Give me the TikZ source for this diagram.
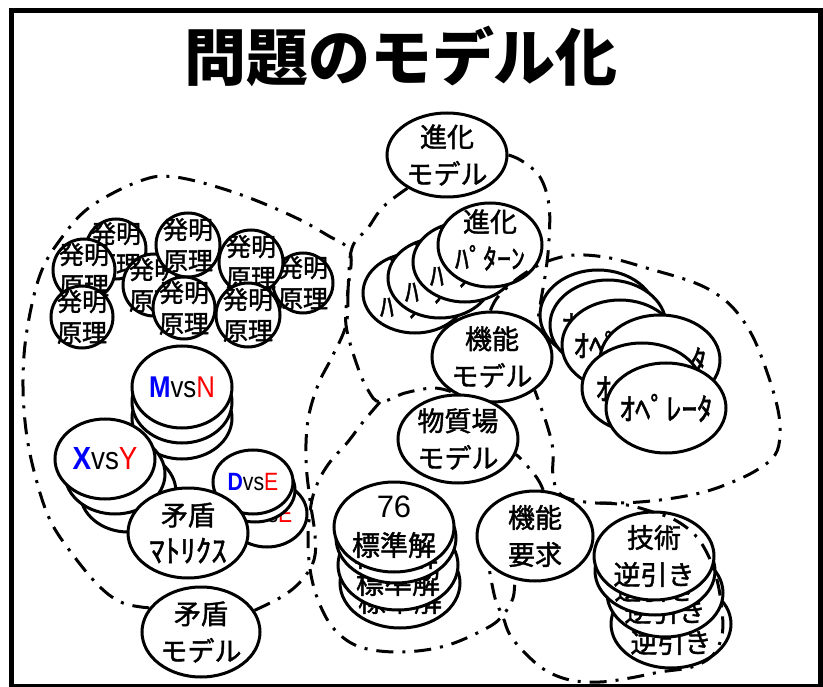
\documentclass[tikz,border=0pt]{standalone}
\usepackage{fontspec}
\usepackage{graphicx}
\usetikzlibrary{shapes.geometric}
\newfontfamily\jp[FakeBold=1.5]{Noto Sans CJK JP}
\newfontfamily\jpt{Noto Sans CJK JP}
\newfontfamily\lat{Liberation Sans}
\newcommand\ovl[6][]{%
  \node[oval, minimum width=2*#4pt, minimum height=2*#5pt] (#2) at (#3) {};
  \node[lbl,#1] (#2t) at (#2) {#6};}
\newcommand\mvsn{\lat\fontsize{30}{30}\selectfont\scalebox{0.86}[1]{\textcolor{blue}{\bfseries M}vs\textcolor{red}{N}}}
\newcommand\xvsy{\lat\fontsize{32}{32}\selectfont\scalebox{0.87}[1]{\textcolor{blue}{\bfseries X}vs\textcolor{red}{Y}}}
\newcommand\dvse{\lat\fontsize{25}{25}\selectfont\scalebox{0.85}[1]{\textcolor{blue}{\bfseries D}vs\textcolor{red}{E}}}
\newcommand\hatsu{発明\\原理}
\newcommand\shinka{進化\\{\fontsize{28}{28}\selectfont ﾊﾟﾀｰﾝ}}
\newcommand\opr{{\fontsize{31}{31}\selectfont ｵﾍﾟﾚｰﾀ}}
\newcommand\hyo{{\lat\fontsize{31}{31}\selectfont 76}\\[1pt]{\fontsize{28}{28}\selectfont 標準解}}
\newcommand\gij{技術\\逆引き}
\begin{document}
\begin{tikzpicture}[x=1pt,y=-1pt,
  oval/.style={ellipse, draw, fill=white, line width=3pt, inner sep=0pt},
  lbl/.style={align=center, inner sep=0pt, font=\jp\fontsize{27}{37}\selectfont},
  hm/.style={font=\jp\fontsize{25}{31}\selectfont},
  region/.style={line width=3pt, dash pattern=on 17pt off 9pt on 3pt off 9pt},
  ttl/.style={font=\jpt\bfseries\fontsize{62}{62}\selectfont, inner sep=0pt}]
\useasboundingbox (0,0) rectangle (823,687);
\draw[line width=5pt] (11,11) rectangle (820,686);
\node[ttl] (title) at (401,56) {問題のモデル化};
% invention principles
\ovl[hm]{h1}{116,249}{30}{30}{\hatsu}
\ovl[hm]{h4}{154,285}{31}{31}{\hatsu}
\ovl[hm]{h9}{303,283}{30}{30}{\hatsu}
\ovl[hm]{h7}{251,262}{32}{32}{\hatsu}
\ovl[hm]{h5}{188,245}{32}{32}{\hatsu}
\ovl[hm]{h2}{84,270}{31}{31}{\hatsu}
\ovl[hm]{h3}{82,317}{31}{31}{\hatsu}
\ovl[hm]{h6}{184,308}{31}{31}{\hatsu}
\ovl[hm]{h8}{248,315}{32}{32}{\hatsu}
% contradiction cluster
\ovl{m3}{182,418}{50}{41}{}
\ovl{m2}{182,402}{50}{41}{}
\ovl{m1}{182,387}{50}{41}{\mvsn}
\ovl{x3}{128,492}{48}{40}{}
\ovl{x2}{115,474}{50}{40}{}
\ovl{x1}{105,459}{50}{40}{\xvsy}
\ovl{d3}{267,514}{40}{33}{\dvse}
\ovl{d2}{255,490}{40}{32}{\dvse}
\ovl{d1}{253,482}{40}{32}{\dvse}
\ovl{mx}{188,533}{60}{45}{矛盾\\{\fontsize{31}{31}\selectfont ﾏﾄﾘｸｽ}}
\ovl{mm}{201,632}{59}{45}{矛盾\\モデル}
% evolution
\ovl{sm}{447,155}{60}{42}{進化\\モデル}
\ovl[yshift=5pt]{p4}{415,293}{52}{40}{\shinka}
\ovl[yshift=5pt]{p3}{440,278}{52}{40}{\shinka}
\ovl[yshift=5pt]{p2}{465,262}{52}{40}{\shinka}
\ovl[yshift=5pt]{p1}{490,245}{52}{42}{\shinka}
% operators
\ovl{oA}{598,315}{58}{45}{\opr}
\ovl{oB}{608,325}{58}{45}{\opr}
\ovl{oC}{620,345}{58}{45}{\opr}
\ovl{oD}{660,360}{60}{45}{\opr}
\ovl{oE}{642,388}{60}{45}{\opr}
\ovl{oF}{666,408}{60}{45}{\opr}
% function model, substance-field
\ovl{km}{492,357}{60}{45}{機能\\モデル}
\ovl{bm}{458,439}{60}{44}{物質場\\モデル}
\ovl{s4}{400,583}{60}{45}{\hyo}
\ovl{s3}{398,565}{60}{45}{\hyo}
\ovl{s2}{396,538}{60}{45}{\hyo}
\ovl{s1}{394,527}{60}{45}{\hyo}
% function requirement, technology
\ovl{yk}{535,536}{58}{45}{機能\\要求}
\ovl{g4}{671,624}{60}{44}{\gij}
\ovl{g3}{665,593}{58}{44}{\gij}
\ovl{g2}{655,571}{60}{44}{\gij}
\ovl{g1}{654,556}{60}{44}{\gij}
% region outlines
\draw[region] plot[smooth, tension=0.6] coordinates {(mm.155) (123,603) (100,587) (73,555) (50,520) (35,475) (26,430) (23,380) (27,330) (40,275) (60,240) (90,207) (140,181) (175,177) (233,192) (290,215) (327,235) (350,252) (348,290) (346,325) (332,357) (318,385) (308,420) (306,460) (310,500) (315,535) (314,560) (302,580) (283,596) (mm.22)};
\draw[region] plot[smooth, tension=0.6] coordinates {(sm.220) (383,207) (368,228) (352,248) (348,290) (346,325) (357,365) (368,390) (380,402) (405,393) (433,388) (km.220)};
\draw[region] plot[smooth, tension=0.6] coordinates {(sm.0) (522,161) (540,177) (549,205) (549,240) (546,270) (541,300) (km.35)};
\draw[region] plot[smooth, tension=0.6] coordinates {(km.92) (497,298) (512,283) (530,270) (548,261) (575,255) (610,258) (650,269) (690,281) (715,293) (735,310) (753,337) (768,375) (778,410) (780,435) (775,455) (757,470) (730,483) (700,493) (660,500) (620,503) (585,502) (560,494) (553,475) (553,450) (547,425) (km.-38)};
\draw[region] plot[smooth, tension=0.6] coordinates {(380,402) (363,422) (347,443) (330,462) (318,482) (311,505) (308,540) (311,575) (320,605) (335,630) (360,647) (400,652) (445,646) (487,628) (503,615) (513,598) (yk.245)};
\draw[region] plot[smooth, tension=0.6] coordinates {(yk.80) (537,478) (522,460) (bm.-15)};
\draw[region] plot[smooth, tension=0.6] coordinates {(600,503) (627,505) (653,512) (675,520) (695,535) (708,555) (717,580) (722,610) (722,635) (713,655) (692,667) (660,672) (630,678) (600,682) (570,680) (545,670) (525,653) (510,635) (503,617) (495,598) (yk.212)};
\end{tikzpicture}
\end{document}
